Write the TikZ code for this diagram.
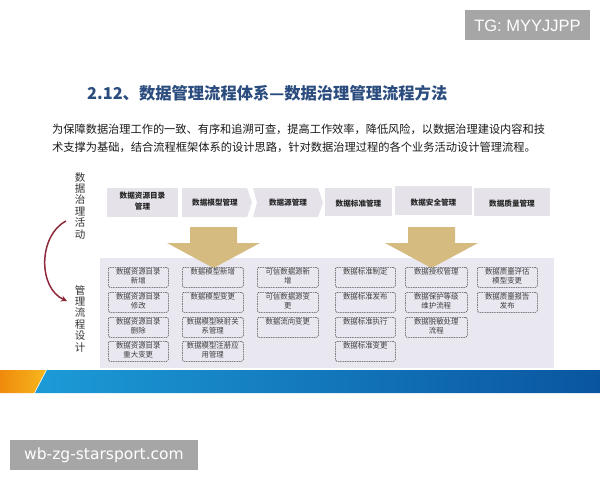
\documentclass[tikz,border=0pt]{standalone}
\usepackage{fontspec}
\setmainfont{Liberation Sans}
\newfontfamily\cjk{Noto Sans CJK SC}
\newfontfamily\wmfont{DejaVu Sans}
\usetikzlibrary{arrows.meta}
\definecolor{titleblue}{HTML}{2B4C7E}
\definecolor{wmgrey}{HTML}{A6A6A6}
\definecolor{bannerfill}{HTML}{E5E2EA}
\definecolor{panelfill}{HTML}{E9E7EF}
\definecolor{arrowgold}{HTML}{D5BB80}
\definecolor{curvered}{HTML}{8E2A3C}
\definecolor{bandlight}{HTML}{1C9BD7}
\definecolor{banddark}{HTML}{0A55A0}
\definecolor{bandorange}{HTML}{EF8A0C}
\definecolor{bandyellow}{HTML}{F6B71C}
\tikzset{
  procbox/.style={draw=black!70, fill=panelfill, line width=0.5pt, dash pattern=on 1.6pt off 0.8pt, rounded corners=1.5pt, inner sep=0pt},
  boxtext/.style={font=\cjk\fontsize{7.4}{9}\selectfont, text=black!75, align=center, inner sep=0pt},
  bannertext/.style={font=\cjk\bfseries\fontsize{7.6}{11}\selectfont, text=black!85, align=center, inner sep=0pt},
  bannerbox/.style={fill=bannerfill, draw=none},
  sidetext/.style={font=\cjk\fontsize{10.5}{11.4}\selectfont, text=black!80, align=center, inner sep=0pt},
}
\newcommand{\procb}[5]{%
  \node[procbox, anchor=north west, minimum width=#4pt, minimum height=20pt] (#1) at (#2,#3) {};
  \node[boxtext, anchor=north, text width=#4pt] (#1t) at ([yshift=-1.4pt]#1.north) {#5};
}
\begin{document}
\begin{tikzpicture}[x=1pt,y=-1pt]
\useasboundingbox (0,0) rectangle (600,480);
\fill[white] (0,0) rectangle (600,480);

% watermarks
\fill[wmgrey] (465,10) rectangle (590,40);
\node[text=white, font=\fontsize{16.5}{16.5}\selectfont, inner sep=0pt] (tg) at (527.5,25.5) {TG: MYYJJPP};
\fill[wmgrey] (10,440) rectangle (198,470);
\node[text=white, font=\wmfont\fontsize{15.5}{15.5}\selectfont, inner sep=0pt] (wm) at (104,455) {wb-zg-starsport.com};

% title and text
\node[anchor=west, inner sep=0pt, text=titleblue, font=\cjk\bfseries\fontsize{16.3}{16.3}\selectfont] (title) at (87,93) {2.12、数据管理流程体系—数据治理管理流程方法};
\node[anchor=west, inner sep=0pt, text=black!90, font=\cjk\fontsize{11.2}{11.2}\selectfont] (para1) at (52,129) {为保障数据治理工作的一致、有序和追溯可查，提高工作效率，降低风险，以数据治理建设内容和技};
\node[anchor=west, inner sep=0pt, text=black!90, font=\cjk\fontsize{11.25}{11.25}\selectfont] (para2) at (52,147.5) {术支撑为基础，结合流程框架体系的设计思路，针对数据治理过程的各个业务活动设计管理流程。};

% side labels
\node[sidetext, anchor=north] (act) at (80,172) {数\\据\\治\\理\\活\\动};
\node[sidetext, anchor=north] (des) at (80,285) {管\\理\\流\\程\\设\\计};
\coordinate (cs) at (66,221);
\coordinate (ce) at (67,301);
\draw[curvered, line width=1.5pt, -{Stealth[length=6pt,width=6pt]}] (cs) .. controls (38,236) and (38,288) .. (ce);

% top banners
\fill[bannerfill] (107,188) rectangle (178,217);
\node[bannertext] (b1) at (142.5,201.5) {数据资源目录\\管理};
\fill[bannerfill] (182,188) -- (247,188) -- (252,202.5) -- (247,217) -- (182,217) -- cycle;
\node[bannertext] (b2) at (215,203) {数据模型管理};
\fill[bannerfill] (253,188) -- (318,188) -- (323,202.5) -- (318,217) -- (253,217) -- (257,202.5) -- cycle;
\node[bannertext] (b3) at (288,203) {数据源管理};
\fill[bannerfill] (325,188) rectangle (392,216);
\node[bannertext] (b4) at (358.5,203.5) {数据标准管理};
\fill[bannerfill] (395,186) rectangle (472,215);
\node[bannertext] (b5) at (433.5,202.5) {数据安全管理};
\fill[bannerfill] (474,188) rectangle (550,216);
\node[bannertext] (b6) at (512,203.5) {数据质量管理};

% panel
\fill[panelfill] (100,258) rectangle (554,368);

% big arrows
\fill[arrowgold] (190,227) -- (237,227) -- (237,243) -- (260,243) -- (213.5,268) -- (167,243) -- (190,243) -- cycle;
\fill[arrowgold] (408,227) -- (455,227) -- (455,243) -- (478,243) -- (431.5,268) -- (385,243) -- (408,243) -- cycle;

% process boxes
\procb{a1}{108}{267}{60}{数据资源目录\\新增}
\procb{a2}{108}{292}{60}{数据资源目录\\修改}
\procb{a3}{108}{317}{60}{数据资源目录\\删除}
\procb{a4}{108}{341}{60}{数据资源目录\\重大变更}
\procb{m1}{182}{267}{61}{数据模型新增}
\procb{m2}{182}{292}{61}{数据模型变更}
\procb{m3}{182}{317}{61}{数据模型映射关\\系管理}
\procb{m4}{182}{341}{61}{数据模型注册应\\用管理}
\procb{s1}{257}{267}{61}{可信数据源新\\增}
\procb{s2}{257}{292}{61}{可信数据源变\\更}
\procb{s3}{257}{317}{61}{数据流向变更}
\procb{d1}{335}{267}{60}{数据标准制定}
\procb{d2}{335}{292}{60}{数据标准发布}
\procb{d3}{335}{317}{60}{数据标准执行}
\procb{d4}{335}{341}{60}{数据标准变更}
\procb{e1}{405}{267}{62}{数据授权管理}
\procb{e2}{405}{292}{62}{数据保护等级\\维护流程}
\procb{e3}{405}{317}{62}{数据脱敏处理\\流程}
\procb{q1}{477}{267}{60}{数据质量评估\\模型变更}
\procb{q2}{477}{292}{60}{数据质量报告\\发布}

% bottom band
\shade[left color=bandorange, right color=bandyellow] (0,370) -- (46,370) -- (34,393) -- (0,393) -- cycle;
\shade[left color=bandlight, right color=banddark] (47,370) -- (600,370) -- (600,393) -- (35,393) -- cycle;
\end{tikzpicture}
\end{document}
